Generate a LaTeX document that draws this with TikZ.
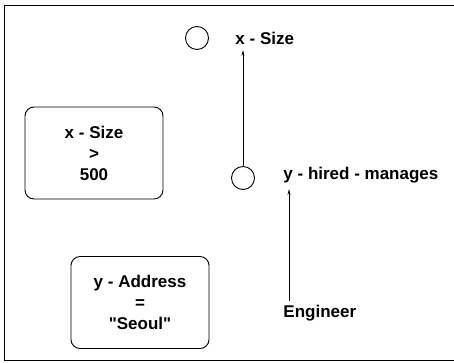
\documentclass[tikz,border=0pt]{standalone}
\usepackage{fontspec}
\setmainfont{Liberation Sans}[Ligatures=TeXOff]
\usetikzlibrary{arrows.meta}
\begin{document}
\begin{tikzpicture}[x=1pt,y=-1pt,
  line width=0.9pt,
  txt/.style={font=\fontsize{17}{21}\selectfont\bfseries},
  lbl/.style={txt, inner sep=0pt, anchor=west},
  cond/.style={txt, draw, rounded corners=9pt, minimum width=138pt, minimum height=92pt,
    align=center, inner sep=0pt},
  var/.style={draw, circle, minimum size=23pt, inner sep=0pt},
  link/.style={-{Stealth[length=6pt,width=3pt]}, line width=0.7pt}]
\useasboundingbox (0,0) rectangle (454,362);
% outer frame (open on the right)
\draw (454,5) -- (4,5) -- (4,360) -- (454,360);

% variable circles and their labels
\node[var] (c1) at (197,38) {};
\node[lbl] (xs) at (235,38) {x - Size};
\node[var] (c2) at (243,178) {};
\node[lbl] (hm) at (283,175) {y - hired - manages};
\node[lbl] (eng) at (283,313) {Engineer};

% condition boxes
\node[cond] (b1) at (94,153) {x - Size\\>\\500};
\node[cond] (b2) at (140,302.5) {y - Address\\=\\"Seoul"};

% connectors
\draw[link] (c2.north) -- (c2.north |- 0,50);
\draw[link] ([xshift=6pt,yshift=4pt]eng.north west) -- ([xshift=6pt]eng.north west |- 0,189);
\end{tikzpicture}
\end{document}
